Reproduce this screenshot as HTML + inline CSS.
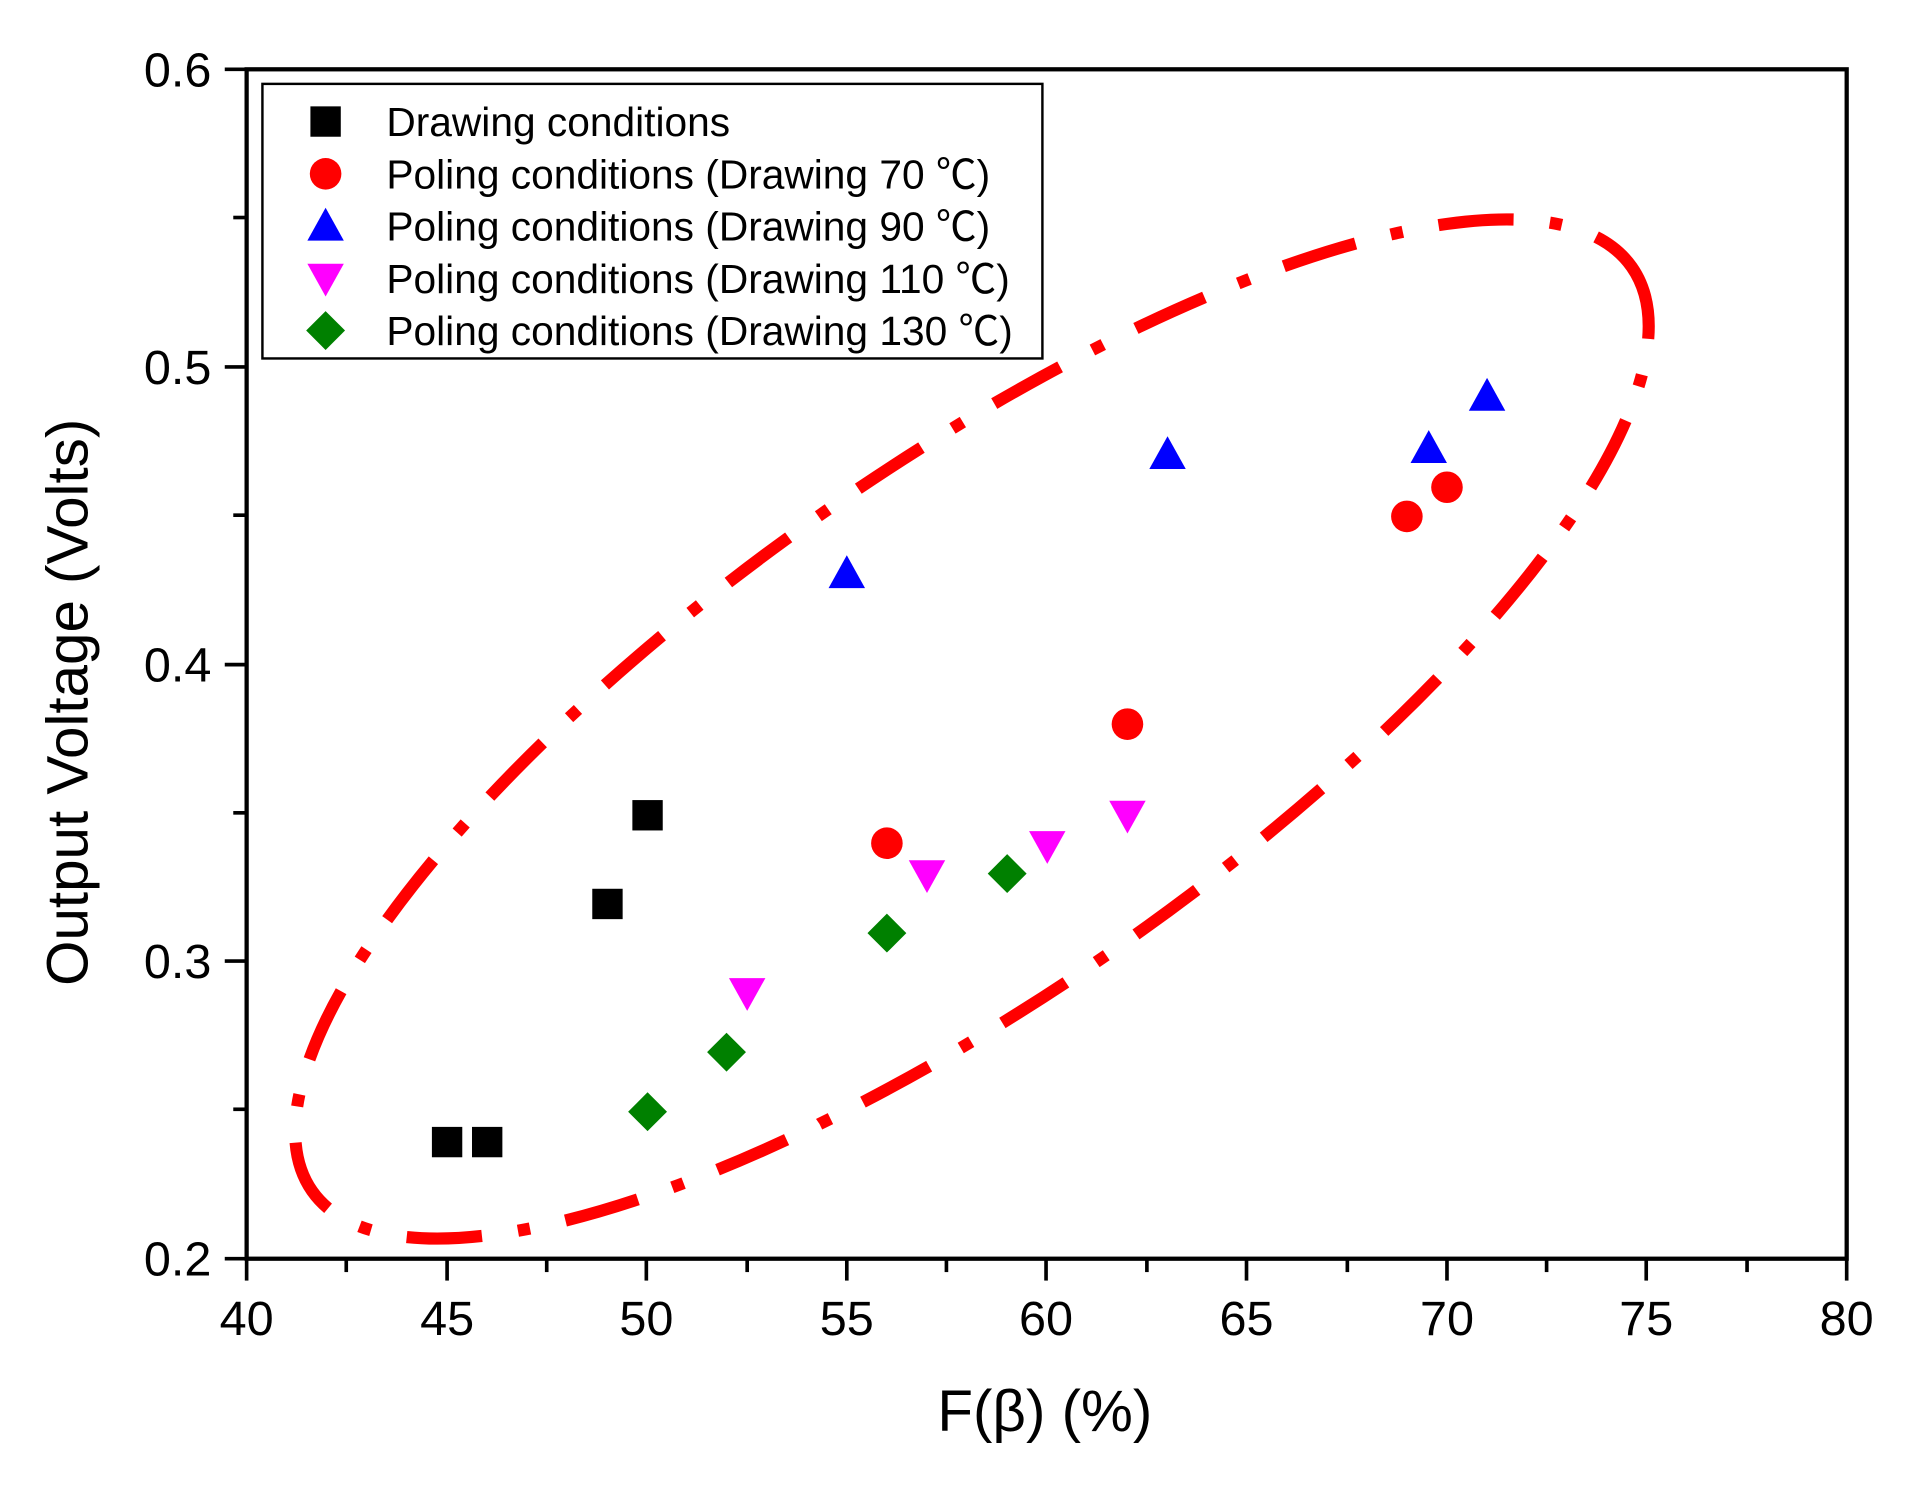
<!DOCTYPE html>
<html><head><meta charset="utf-8"><style>html,body{margin:0;padding:0;background:#fff}svg{display:block}</style></head><body>
<svg width="1905" height="1489" viewBox="0 0 1568 1225.5" xmlns="http://www.w3.org/2000/svg" font-family="Liberation Sans, Noto Sans CJK SC, sans-serif">
<rect width="1568" height="1226" fill="#fff"/>
<!-- ellipse -->
<ellipse cx="800" cy="600" rx="663" ry="216" transform="rotate(-35 800 600)" fill="none" stroke="#ff0000" stroke-width="10" stroke-dasharray="62 30 10 30"/>
<!-- axes -->
<rect x="203" y="57" width="1317" height="979" fill="none" stroke="#000" stroke-width="3.5"/>
<g stroke="#000" stroke-width="3">
<line x1="203" y1="1036" x2="203" y2="1054"/><line x1="285" y1="1036" x2="285" y2="1047"/>
<line x1="368" y1="1036" x2="368" y2="1054"/><line x1="450" y1="1036" x2="450" y2="1047"/>
<line x1="532" y1="1036" x2="532" y2="1054"/><line x1="615" y1="1036" x2="615" y2="1047"/>
<line x1="697" y1="1036" x2="697" y2="1054"/><line x1="779" y1="1036" x2="779" y2="1047"/>
<line x1="861" y1="1036" x2="861" y2="1054"/><line x1="944" y1="1036" x2="944" y2="1047"/>
<line x1="1026" y1="1036" x2="1026" y2="1054"/><line x1="1109" y1="1036" x2="1109" y2="1047"/>
<line x1="1191" y1="1036" x2="1191" y2="1054"/><line x1="1273" y1="1036" x2="1273" y2="1047"/>
<line x1="1355" y1="1036" x2="1355" y2="1054"/><line x1="1438" y1="1036" x2="1438" y2="1047"/>
<line x1="1520" y1="1036" x2="1520" y2="1054"/>
<line x1="185" y1="1036" x2="203" y2="1036"/><line x1="192" y1="913" x2="203" y2="913"/>
<line x1="185" y1="791" x2="203" y2="791"/><line x1="192" y1="669" x2="203" y2="669"/>
<line x1="185" y1="547" x2="203" y2="547"/><line x1="192" y1="424" x2="203" y2="424"/>
<line x1="185" y1="302" x2="203" y2="302"/><line x1="192" y1="179" x2="203" y2="179"/>
<line x1="185" y1="57" x2="203" y2="57"/>
</g>
<g font-size="40" text-anchor="end">
<text x="174" y="1050">0.2</text><text x="174" y="805">0.3</text><text x="174" y="561">0.4</text><text x="174" y="316">0.5</text><text x="174" y="71">0.6</text>
</g>
<g font-size="40" text-anchor="middle">
<text x="203" y="1099">40</text><text x="368" y="1099">45</text><text x="532" y="1099">50</text><text x="697" y="1099">55</text><text x="861" y="1099">60</text><text x="1026" y="1099">65</text><text x="1191" y="1099">70</text><text x="1355" y="1099">75</text><text x="1520" y="1099">80</text>
</g>
<text x="860" y="1178" font-size="48" text-anchor="middle">F(β) (%)</text>
<text transform="translate(72 578) rotate(-90)" font-size="48" text-anchor="middle">Output Voltage (Volts)</text>
<!-- legend -->
<rect x="216" y="69" width="642" height="226" fill="#fff" stroke="#000" stroke-width="2"/>
<g font-size="33.5">
<text x="318" y="112">Drawing conditions</text>
<text x="318" y="155">Poling conditions (Drawing 70 ℃)</text>
<text x="318" y="198">Poling conditions (Drawing 90 ℃)</text>
<text x="318" y="241">Poling conditions (Drawing 110 ℃)</text>
<text x="318" y="284">Poling conditions (Drawing 130 ℃)</text>
</g>
<defs>
<rect id="sq" x="-12.5" y="-12.5" width="25" height="25" fill="#000"/>
<circle id="ci" r="13" fill="#ff0000"/>
<polygon id="tu" points="0,-15 15,12 -15,12" fill="#0000ff"/>
<polygon id="td" points="0,15 15,-12 -15,-12" fill="#ff00ff"/>
<polygon id="di" points="0,-16 16,0 0,16 -16,0" fill="#008000"/>
</defs>
<use href="#sq" x="268" y="100"/><use href="#ci" x="268" y="143"/><use href="#tu" x="268" y="186"/><use href="#td" x="268" y="229"/><use href="#di" x="268" y="272"/>
<!-- data -->
<use href="#sq" x="368" y="940"/><use href="#sq" x="401" y="940"/><use href="#sq" x="500" y="744"/><use href="#sq" x="533" y="671"/>
<use href="#ci" x="730" y="694"/><use href="#ci" x="928" y="596"/><use href="#ci" x="1158" y="425"/><use href="#ci" x="1191" y="401"/>
<use href="#tu" x="697" y="472"/><use href="#tu" x="961" y="374"/><use href="#tu" x="1176" y="369"/><use href="#tu" x="1224" y="326"/>
<use href="#td" x="615" y="817"/><use href="#td" x="763" y="720"/><use href="#td" x="862" y="696"/><use href="#td" x="928" y="671"/>
<use href="#di" x="533" y="915"/><use href="#di" x="598" y="866"/><use href="#di" x="730" y="768"/><use href="#di" x="829" y="719"/>
</svg>
</body></html>
